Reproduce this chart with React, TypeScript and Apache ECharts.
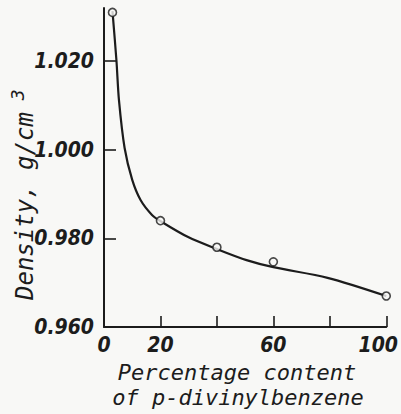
import React, { useEffect, useRef } from "react";
import * as echarts from "echarts";

// tick / label values
const xLabelValues = [0, 20, 60, 100];
const xTickValues = [20, 40, 60, 80, 100];
const yTickValues = [0.96, 0.98, 1.0, 1.02];

// measured points (hollow circles)
const pointX = [3, 20, 40, 60, 100];
const pointY = [1.031, 0.984, 0.978, 0.9747, 0.967];

// hand-drawn curve
const curveX = [3, 4.4, 5.3, 7.3, 10, 13, 17, 20, 29.8, 40, 50.5, 60, 79.2, 100];
const curveY = [1.0313, 1.0202, 1.0112, 1.0004, 0.9932, 0.9886, 0.9853, 0.9839, 0.9803, 0.9776, 0.9751, 0.9735, 0.9711, 0.967];

const ink = "#1c1c1c";
const bg = "#f8f8f6";
const labelFont = '"Liberation Sans Narrow", "DejaVu Sans Condensed", "DejaVu Sans", sans-serif';
const titleFont = '"DejaVu Sans Mono", monospace';

export default function App() {
  const ref = useRef<HTMLDivElement>(null);
  useEffect(() => {
    if (!ref.current) return;
    const chart = echarts.init(ref.current, null, { renderer: "svg" });
    chart.setOption({
      animation: false,
      backgroundColor: bg,
      grid: { left: 104, top: 8, right: 8, bottom: 87 },
      xAxis: {
        type: "value",
        min: 0,
        max: 100,
        interval: 20,
        splitLine: { show: false },
        axisLine: { lineStyle: { color: ink, width: 2 } },
        axisTick: {
          inside: true,
          length: 11,
          lineStyle: { color: ink, width: 1.6 },
          customValues: xTickValues,
        },
        axisLabel: {
          customValues: xLabelValues,
          color: ink,
          fontFamily: labelFont,
          fontStyle: "italic",
          fontWeight: "bold",
          fontSize: 21,
          margin: 7,
          formatter: (v: number) => (v === 100 ? "{r|100}" : String(v)),
          rich: {
            r: {
              color: ink,
              fontFamily: labelFont,
              fontStyle: "italic",
              fontWeight: "bold",
              fontSize: 21,
              padding: [0, 16, 0, 0],
            },
          },
        },
      },
      yAxis: {
        type: "value",
        min: 0.96,
        max: 1.032,
        interval: 0.02,
        splitLine: { show: false },
        axisLine: { lineStyle: { color: ink, width: 2 } },
        axisTick: {
          inside: true,
          length: 12,
          lineStyle: { color: ink, width: 1.6 },
          customValues: yTickValues,
        },
        axisLabel: {
          customValues: yTickValues,
          color: ink,
          fontFamily: labelFont,
          fontStyle: "italic",
          fontWeight: "bold",
          fontSize: 21,
          margin: 10,
          formatter: (v: number) => v.toFixed(3),
        },
      },
      graphic: [
        {
          type: "text",
          x: 25,
          y: 300,
          rotation: Math.PI / 2,
          style: {
            text: "Density, g/cm{sup|3}",
            fill: ink,
            font: `italic 24px ${titleFont}`,
            align: "left",
            verticalAlign: "middle",
            rich: {
              sup: {
                fontSize: 18,
                fontStyle: "italic",
                fontFamily: titleFont,
                fill: ink,
                verticalAlign: "bottom",
                padding: [0, 0, 16, 12],
              },
            },
          },
        },
        {
          type: "text",
          x: 237,
          y: 372,
          style: {
            text: "Percentage content",
            fill: ink,
            font: `italic 22px ${titleFont}`,
            align: "center",
            verticalAlign: "middle",
          },
        },
        {
          type: "text",
          x: 238,
          y: 397,
          style: {
            text: "of p-divinylbenzene",
            fill: ink,
            font: `italic 22px ${titleFont}`,
            align: "center",
            verticalAlign: "middle",
          },
        },
      ],
      series: [
        {
          type: "line",
          data: curveX.map((x, i) => [x, curveY[i]]),
          smooth: 0.3,
          showSymbol: false,
          lineStyle: { color: ink, width: 2.2 },
          z: 2,
        },
        {
          type: "scatter",
          data: pointX.map((x, i) => [x, pointY[i]]),
          symbol: "circle",
          symbolSize: 8,
          itemStyle: { color: bg, borderColor: ink, borderWidth: 1.6 },
          z: 3,
        },
      ],
    });
    return () => chart.dispose();
  }, []);
  return (
    <div
      ref={ref}
      style={{ position: "fixed", left: 0, top: 0, width: 401, height: 414 }}
    />
  );
}
